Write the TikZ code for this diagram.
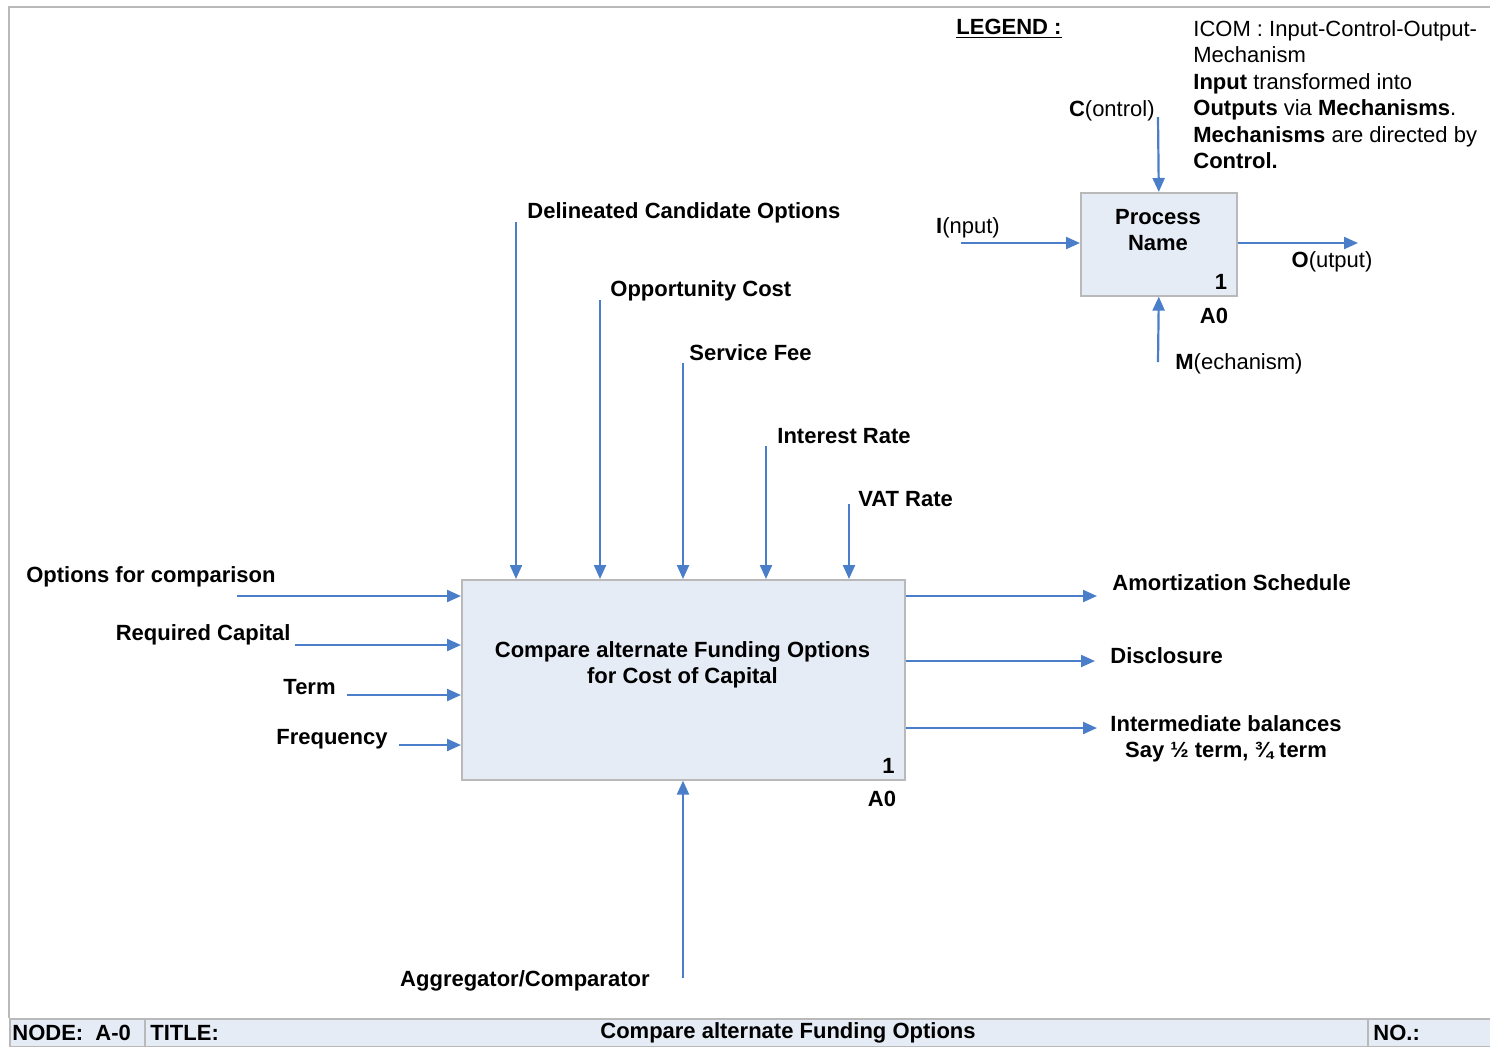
\documentclass[tikz,border=0pt]{standalone}
\usepackage{fontspec}
\setmainfont{Liberation Sans}
\usetikzlibrary{arrows.meta}

\definecolor{flowblue}{RGB}{74,126,200}
\definecolor{boxfill}{RGB}{230,236,246}
\definecolor{framegray}{RGB}{185,185,185}

\tikzset{
  flow/.style={draw=flowblue, line width=1.1pt, -{Triangle[length=7pt,width=6pt]}},
  procbox/.style={draw=framegray, fill=boxfill, line width=0.8pt, inner sep=0pt, anchor=north west},
  lbl/.style={font=\bfseries\fontsize{11}{13}\selectfont, inner sep=0pt},
  plain/.style={font=\fontsize{11}{13.25}\selectfont, inner sep=0pt}
}

\begin{document}
\begin{tikzpicture}[x=0.5pt, y=-0.5pt]
  \useasboundingbox (0,0) rectangle (1490,1046);

  % frame and title bar
  \draw[framegray, line width=0.8pt] (9,1018) -- (9,7) -- (1490,7);
  \node[procbox, minimum width=740.5pt, minimum height=14pt] (bar) at (9,1018) {};
  \draw[framegray, line width=0.8pt] (145,1018) -- (145,1046);
  \draw[framegray, line width=0.8pt] (1368,1018) -- (1368,1046);
  \node[lbl, anchor=west] (nodeno) at (12,1033) {NODE:\ \ A-0};
  \node[lbl, anchor=west] (title) at (150,1033) {TITLE:};
  \node[lbl] (titletext) at (788,1033) {Compare alternate Funding Options};
  \node[lbl, anchor=west] (number) at (1373,1033) {NO.:};

  % main activity
  \node[procbox, minimum width=221.5pt, minimum height=100pt] (main) at (461,579) {};
  \node[lbl, align=center] (mainname) at (682.5,665) {Compare alternate Funding Options\\for Cost of Capital};
  \node[lbl, anchor=east] (mainnum) at (895,766) {1};
  \node[lbl] (mainid) at (882,799) {A0};

  % controls
  \coordinate (ctl1) at (516,222);
  \coordinate (ctl2) at (600,300);
  \coordinate (ctl3) at (683,363);
  \coordinate (ctl4) at (766,446);
  \coordinate (ctl5) at (849,504);
  \node[lbl, anchor=west] (ctl1lbl) at (527,213) {Delineated Candidate Options};
  \node[lbl, anchor=west] (ctl2lbl) at (610,291) {Opportunity Cost};
  \node[lbl, anchor=west] (ctl3lbl) at (689,353) {Service Fee};
  \node[lbl, anchor=west] (ctl4lbl) at (777,436) {Interest Rate};
  \node[lbl, anchor=west] (ctl5lbl) at (858,499) {VAT Rate};
  \foreach \c in {ctl1,ctl2,ctl3,ctl4,ctl5}
    \draw[flow] (\c) -- (\c |- main.north);

  % inputs
  \coordinate (in1) at (237,596);
  \coordinate (in2) at (295,645);
  \coordinate (in3) at (347,695);
  \coordinate (in4) at (399,745);
  \node[lbl, anchor=east] (in1lbl) at (276,577) {Options for comparison};
  \node[lbl, anchor=east] (in2lbl) at (291,635) {Required Capital};
  \node[lbl, anchor=east] (in3lbl) at (336,687) {Term};
  \node[lbl, anchor=east] (in4lbl) at (388,739) {Frequency};
  \foreach \i in {in1,in2,in3,in4}
    \draw[flow] (\i) -- (\i -| main.west);

  % outputs
  \coordinate (out1) at (1097,596);
  \coordinate (out2) at (1095,661);
  \coordinate (out3) at (1097,728);
  \node[lbl, anchor=west] (out1lbl) at (1112,583) {Amortization Schedule};
  \node[lbl, anchor=west] (out2lbl) at (1110,656) {Disclosure};
  \node[lbl, align=center] (out3lbl) at (1226,739) {Intermediate balances\\Say ½ term, ¾ term};
  \foreach \o in {out1,out2,out3}
    \draw[flow] (\o -| main.east) -- (\o);

  % mechanism
  \coordinate (mech1) at (683,978);
  \node[lbl, anchor=east] (mech1lbl) at (650,981) {Aggregator/Comparator};
  \draw[flow] (mech1) -- (mech1 |- main.south);

  % legend
  \node[lbl, anchor=west] (legend) at (956,29) {\underline{LEGEND :}};
  \node[plain, anchor=north west, align=left] (legendtext) at (1193,20)
    {ICOM : Input-Control-Output-\\Mechanism\\\textbf{Input} transformed into\\
     \textbf{Outputs} via \textbf{Mechanisms}.\\\textbf{Mechanisms} are directed by\\\textbf{Control.}};
  \node[procbox, minimum width=78pt, minimum height=51.5pt] (proc) at (1080,192) {};
  \node[lbl, align=center] (procname) at (1158,230) {Process\\Name};
  \node[lbl] (procnum) at (1221,282) {1};
  \node[lbl] (procid) at (1214,316) {A0};
  \coordinate (legc) at (1158,117);
  \coordinate (legi) at (961,243);
  \coordinate (lego) at (1358,243);
  \coordinate (legm) at (1158,362);
  \node[plain, anchor=east] (legclbl) at (1155,111) {\textbf{C}(ontrol)};
  \node[plain] (legilbl) at (968,228) {\textbf{I}(nput)};
  \node[plain] (legolbl) at (1332,262) {\textbf{O}(utput)};
  \node[plain, anchor=west] (legmlbl) at (1175,364) {\textbf{M}(echanism)};
  \draw[flow] (legc) -- (proc.north);
  \draw[flow] (legi) -- (legi -| proc.west);
  \draw[flow] (legi -| proc.east) -- (lego);
  \draw[flow] (legm) -- (proc.south);
\end{tikzpicture}
\end{document}
